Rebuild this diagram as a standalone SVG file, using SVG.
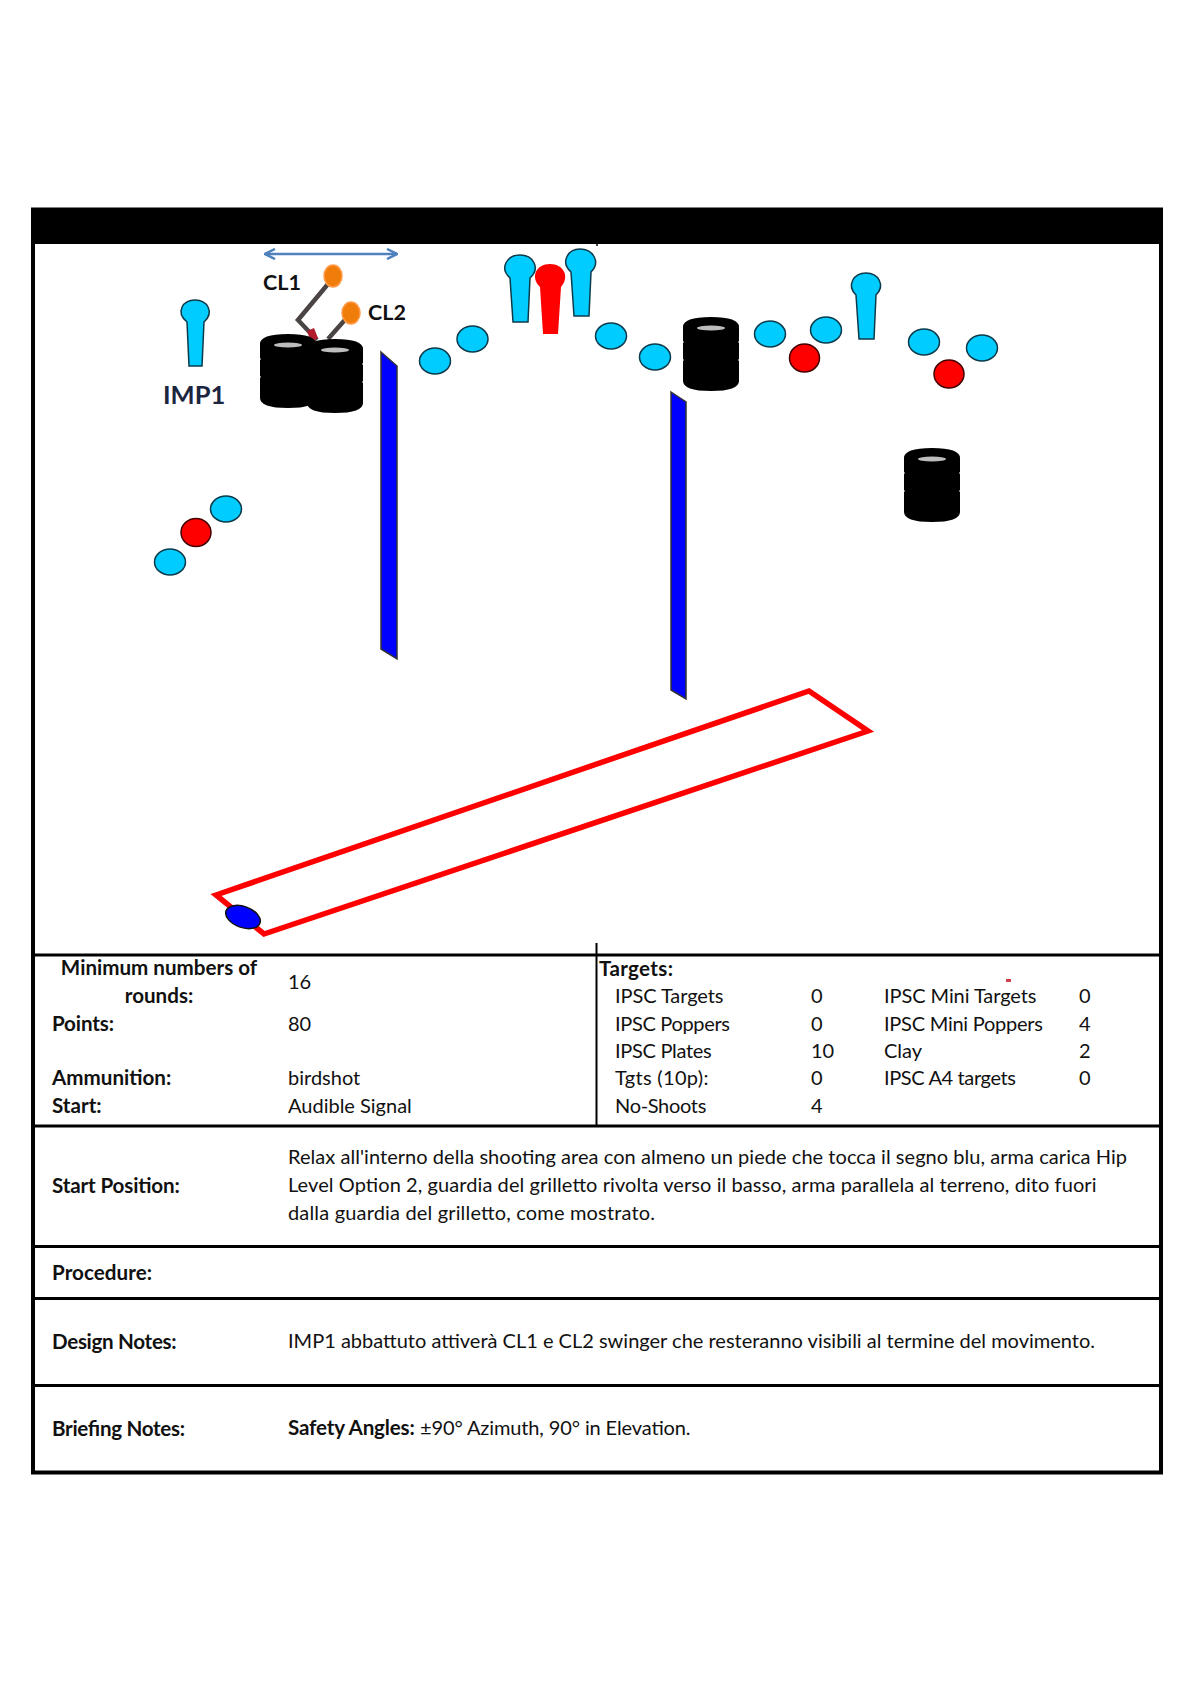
<svg xmlns="http://www.w3.org/2000/svg" width="1191" height="1684" viewBox="0 0 1191 1684">
<defs>
<style>
text{font-family:"Lato","Carlito","Liberation Sans",sans-serif;font-size:20px;fill:#111}
.b{font-weight:700;font-size:20.6px}
.line{stroke:#000;stroke-width:3;fill:none}
.t{fill:#00ccff;stroke:#0b3a4a;stroke-width:1.5}
.ns{fill:#ff0000}
.wall{fill:#0000ff;stroke:#333;stroke-width:1.5}
.gap{fill:#bdbdbd}
</style>
<marker id="ah" viewBox="0 0 10 10" refX="9" refY="5" markerWidth="5" markerHeight="5" orient="auto-start-reverse"><path d="M1 1L9 5L1 9" fill="none" stroke="#4f81bd" stroke-width="2"/></marker>
<g id="barrel"><path d="M0 10Q0 0 28 0T56 10V24L55 25L56 26V42L55 43L56 44V64Q56 74 28 74T0 64V44L1 43L0 42V26L1 25L0 24Z" fill="#000"/><ellipse cx="28" cy="11" rx="14" ry="2.600" class="gap"/></g>
</defs>
<rect width="1191" height="1684" fill="#fff"/>
<rect x="33" y="209" width="1128" height="35" fill="#000"/>
<g id="frame" class="line">
<rect x="33" y="209.500" width="1128" height="1263" stroke-width="4"/>
<path d="M33 955H1161M33 1126H1161M33 1246.500H1161M33 1298.500H1161M33 1385.500H1161"/>
<path d="M596.500 943V1126" stroke-width="2"/>
<path d="M597 243V246" stroke-width="1.500"/>
</g>
<g id="connectors">
<path d="M265 254H397" stroke="#4f81bd" stroke-width="2.500" fill="none" marker-start="url(#ah)" marker-end="url(#ah)"/>
<path d="M333 278L298 320L317 340M351 313L328 339" stroke="#4a4444" stroke-width="4.500" fill="none"/>
<path d="M307 331L314 328L318 338L311 342Z" fill="#b01c2c"/>
</g>
<g id="barrel1"><use href="#barrel" x="260" y="334"/></g>
<g id="barrel2"><use href="#barrel" x="307" y="339"/></g>
<g id="barrel3"><use href="#barrel" x="683" y="317"/></g>
<g id="barrel4"><use href="#barrel" x="904" y="448"/></g>
<g id="cl1"><ellipse cx="333" cy="276" rx="9" ry="11" fill="#f07d0a" stroke="#ff9a4a" stroke-width="1.500"/><text x="263" y="290" class="b" style="font-size:21.500px">CL1</text></g>
<g id="cl2"><ellipse cx="351" cy="313" rx="9" ry="11" fill="#f07d0a" stroke="#ff9a4a" stroke-width="1.500"/><text x="368" y="320" class="b" style="font-size:21.500px">CL2</text></g>
<g id="imp1"><path class="t" d="M187 322C175 312 183 300 195 300C207 300 215 312 204 322L202 366H189Z"/><text x="163" y="404" class="b" style="font-size:25.500px;fill:#1b2540">IMP1</text></g>
<g id="popper1"><path class="t" d="M510 278C499 268 507 255 520 255C533 255 541 268 530 278L528 322H513Z"/></g>
<g id="noshoot-popper"><path class="ns" d="M540 287C530 277 536 264 550 264C564 264 570 277 561 287L558 334H543Z"/></g>
<g id="popper2"><path class="t" d="M571 272C560 262 568 249 580 249C593 249 601 262 591 272L589 316H574Z"/></g>
<g id="popper3"><path class="t" d="M856 295C846 285 854 273 866 273C878 273 886 285 876 295L874 339H859Z"/></g>
<g id="plates">
<ellipse class="t" cx="435" cy="361" rx="15.500" ry="13"/>
<ellipse class="t" cx="472.500" cy="339" rx="15.500" ry="13"/>
<ellipse class="t" cx="611" cy="336" rx="15.500" ry="13"/>
<ellipse class="t" cx="655" cy="357" rx="15.500" ry="13"/>
<ellipse class="t" cx="770" cy="334" rx="15.500" ry="13"/>
<ellipse class="t" cx="826" cy="330" rx="15.500" ry="13"/>
<ellipse class="t" cx="924" cy="342" rx="15.500" ry="13"/>
<ellipse class="t" cx="982" cy="348" rx="15.500" ry="13"/>
<ellipse class="t" cx="226" cy="509" rx="15.500" ry="13"/>
<ellipse class="t" cx="170" cy="562" rx="15.500" ry="13"/>
</g>
<g id="noshoot-plates" stroke="#400" stroke-width="1.500">
<ellipse class="ns" cx="804.500" cy="358" rx="15" ry="14"/>
<ellipse class="ns" cx="949" cy="374" rx="15" ry="14"/>
<ellipse class="ns" cx="196" cy="532.500" rx="15" ry="14"/>
</g>
<g id="wall1"><path class="wall" d="M381 352L397 366V659L381 649Z"/></g>
<g id="wall2"><path class="wall" d="M671 392L686 402V699L671 690Z"/></g>
<g id="shooting-area"><path d="M216 895L809 691L868 731L264 934Z" fill="none" stroke="#ff0000" stroke-width="5.500"/></g>
<g id="start-mark"><ellipse cx="243" cy="917" rx="18" ry="10.500" transform="rotate(20 243 917)" fill="#0000ff" stroke="#111" stroke-width="1.500"/></g>
<g id="table-text">
<text x="159" y="975" class="b" text-anchor="middle">Minimum numbers of</text>
<text x="159" y="1003" class="b" text-anchor="middle">rounds:</text>
<text x="52" y="1031" class="b" textLength="62">Points:</text>
<text x="52" y="1085" class="b">Ammunition:</text>
<text x="52" y="1113" class="b">Start:</text>
<text x="288" y="989">16</text>
<text x="288" y="1031">80</text>
<text x="288" y="1085">birdshot</text>
<text x="288" y="1113">Audible Signal</text>
<text x="599" y="976" class="b" textLength="74">Targets:</text>
<text x="615" y="1003" textLength="108.500">IPSC Targets</text><text x="811" y="1003">0</text>
<text x="615" y="1031" textLength="115">IPSC Poppers</text><text x="811" y="1031">0</text>
<text x="615" y="1058" textLength="96.700">IPSC Plates</text><text x="811" y="1058">10</text>
<text x="615" y="1085" textLength="93.400">Tgts (10p):</text><text x="811" y="1085">0</text>
<text x="615" y="1113" textLength="91.300">No-Shoots</text><text x="811" y="1113">4</text>
<text x="884" y="1003" textLength="152.500">IPSC Mini Targets</text><text x="1079" y="1003">0</text>
<text x="884" y="1031" textLength="159">IPSC Mini Poppers</text><text x="1079" y="1031">4</text>
<text x="884" y="1058">Clay</text><text x="1079" y="1058">2</text>
<text x="884" y="1085" textLength="132">IPSC A4 targets</text><text x="1079" y="1085">0</text>
<rect x="1006" y="979" width="5" height="3" fill="#d0404a"/>
<text x="52" y="1193" class="b" textLength="127.800">Start Position:</text>
<text x="288" y="1164" textLength="839">Relax all'interno della shooting area con almeno un piede che tocca il segno blu, arma carica Hip</text>
<text x="288" y="1192" textLength="808.500">Level Option 2, guardia del grilletto rivolta verso il basso, arma parallela al terreno, dito fuori</text>
<text x="288" y="1220" textLength="367">dalla guardia del grilletto, come mostrato.</text>
<text x="52" y="1280" class="b" textLength="100">Procedure:</text>
<text x="52" y="1349" class="b" textLength="124.600">Design Notes:</text>
<text x="288" y="1348" textLength="807">IMP1 abbattuto attiverà CL1 e CL2 swinger che resteranno visibili al termine del movimento.</text>
<text x="52" y="1436" class="b" textLength="133">Briefing Notes:</text>
<text x="288" y="1435" class="b" textLength="126.700">Safety Angles:</text>
<text x="420" y="1435" textLength="270.600">±90° Azimuth, 90° in Elevation.</text>
</g>
</svg>
